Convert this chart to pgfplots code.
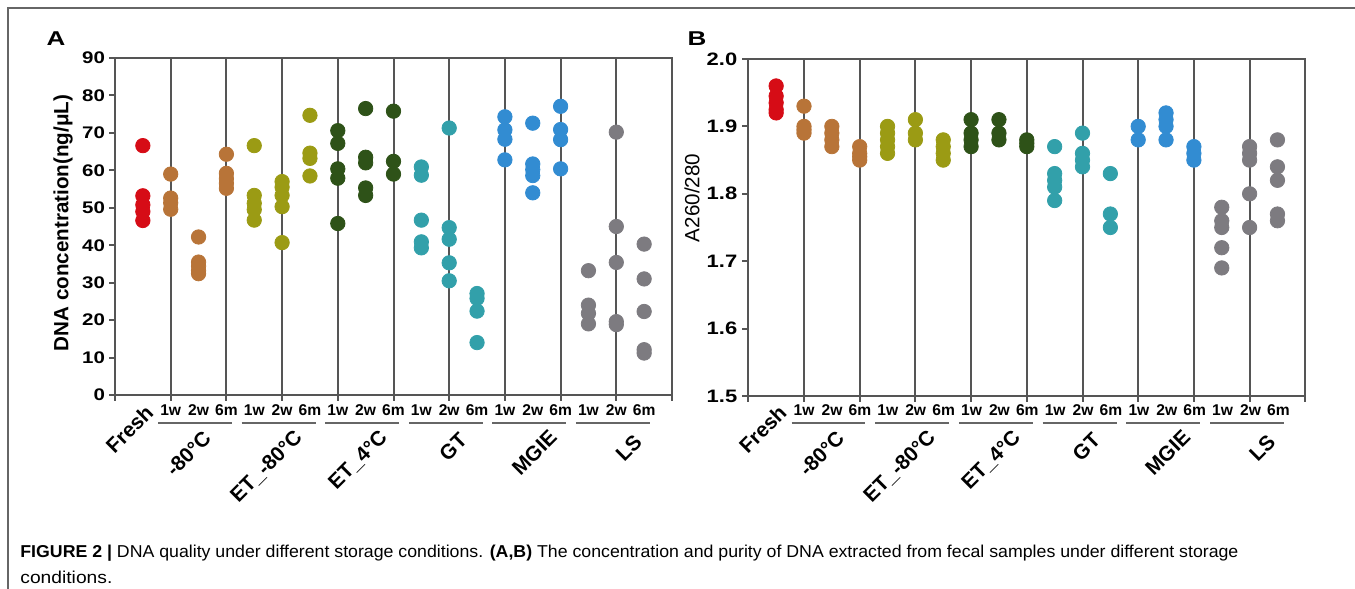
\documentclass[border=0pt]{standalone}
\usepackage{pgfplots}
\pgfplotsset{compat=1.18}
\usepackage{fontspec}
\usepackage{graphicx}
\setmainfont{Liberation Sans}
\newfontfamily\widefont[FakeStretch=1.22]{Liberation Sans}
\newfontfamily\widerfont[FakeStretch=1.3]{Liberation Sans}

\definecolor{cfresh}{RGB}{214,12,22}
\definecolor{cbrown}{RGB}{184,116,56}
\definecolor{colive}{RGB}{155,155,20}
\definecolor{cgreen}{RGB}{46,82,24}
\definecolor{cteal}{RGB}{50,160,170}
\definecolor{cblue}{RGB}{50,140,210}
\definecolor{cgrey}{RGB}{125,123,128}
\definecolor{lines}{RGB}{85,85,85}

\pgfplotsset{
  dotplot/.style={
    scale only axis, anchor=south west,
    width=278.5pt, height=168.5pt,
    xmin=0, xmax=20,
    xtick={0,2,...,20}, xticklabels={},
    xmajorgrids, grid style={line width=1pt, color=lines},
    axis line style={line width=1pt, color=lines},
    tick style={line width=1pt, color=lines},
    tick align=outside, major tick length=3pt,
    xtick pos=bottom, ytick pos=left,
    /pgf/number format/assume math mode=true,
    clip=false,
  },
  dots/.style={only marks, mark=*, mark size=3.6pt, color=#1, mark options={draw=#1, fill=#1}},
}

\begin{document}
\begin{tikzpicture}
\useasboundingbox (0,0) rectangle (677.5pt,294.5pt);

% panel A
\begin{axis}[dotplot, at={(57.5pt,97pt)},
  ymin=0, ymax=90, ytick={0,10,...,90},
  yticklabel style={font=\widefont\bfseries\fontsize{8.4}{9}\selectfont, xshift=1.5pt},
]
\addplot[dots=cfresh] coordinates {(1,66.6)(1,53.2)(1,50.8)(1,49.0)(1,46.6)};
\addplot[dots=cbrown] coordinates {(2,59.0)(2,52.6)(2,51.3)(2,49.6)(3,42.2)(3,35.5)(3,34.4)(3,33.2)(3,32.4)(4,64.3)(4,59.2)(4,57.8)(4,56.5)(4,55.2)};
\addplot[dots=colive] coordinates {(5,66.6)(5,53.3)(5,51.2)(5,49.5)(5,46.7)(6,57.0)(6,55.5)(6,53.3)(6,50.3)(6,40.7)(7,74.7)(7,64.6)(7,63.2)(7,58.5)};
\addplot[dots=cgreen] coordinates {(8,70.6)(8,67.2)(8,60.4)(8,57.9)(8,45.8)(9,76.5)(9,63.5)(9,62.0)(9,55.3)(9,53.3)(10,75.8)(10,62.4)(10,59.0)};
\addplot[dots=cteal] coordinates {(11,60.9)(11,58.7)(11,46.7)(11,40.9)(11,39.3)(12,71.3)(12,44.7)(12,41.6)(12,35.3)(12,30.5)(13,27.1)(13,25.8)(13,22.4)(13,14.0)};
\addplot[dots=cblue] coordinates {(14,74.3)(14,70.8)(14,68.3)(14,62.8)(15,72.6)(15,61.7)(15,60.2)(15,58.6)(15,54.0)(16,77.1)(16,70.9)(16,68.2)(16,60.4)};
\addplot[dots=cgrey] coordinates {(17,33.2)(17,24.0)(17,21.8)(17,19.0)(18,70.2)(18,45.0)(18,35.4)(18,19.6)(18,18.8)(19,40.3)(19,31.0)(19,22.3)(19,12.1)(19,11.2)};
\end{axis}

% panel B
\begin{axis}[dotplot, at={(374.15pt,96.5pt)},
  ymin=1.5, ymax=2.0, ytick={1.5,1.6,...,2.0},
  yticklabel style={font=\widefont\bfseries\fontsize{9}{10}\selectfont, xshift=1pt,
    /pgf/number format/fixed, /pgf/number format/fixed zerofill, /pgf/number format/precision=1},
]
\addplot[dots=cfresh] coordinates {(1,1.96)(1,1.945)(1,1.935)(1,1.925)(1,1.92)};
\addplot[dots=cbrown] coordinates {(2,1.93)(2,1.90)(2,1.895)(2,1.89)(3,1.90)(3,1.89)(3,1.88)(3,1.87)(4,1.87)(4,1.86)(4,1.855)(4,1.85)};
\addplot[dots=colive] coordinates {(5,1.90)(5,1.89)(5,1.88)(5,1.87)(5,1.86)(6,1.91)(6,1.89)(6,1.88)(7,1.88)(7,1.87)(7,1.86)(7,1.85)};
\addplot[dots=cgreen] coordinates {(8,1.91)(8,1.89)(8,1.88)(8,1.87)(9,1.91)(9,1.89)(9,1.88)(10,1.88)(10,1.875)(10,1.87)};
\addplot[dots=cteal] coordinates {(11,1.87)(11,1.83)(11,1.82)(11,1.81)(11,1.79)(12,1.89)(12,1.86)(12,1.85)(12,1.84)(13,1.83)(13,1.77)(13,1.75)};
\addplot[dots=cblue] coordinates {(14,1.90)(14,1.88)(15,1.92)(15,1.91)(15,1.90)(15,1.88)(16,1.87)(16,1.86)(16,1.85)};
\addplot[dots=cgrey] coordinates {(17,1.78)(17,1.76)(17,1.75)(17,1.72)(17,1.69)(18,1.87)(18,1.86)(18,1.85)(18,1.80)(18,1.75)(19,1.88)(19,1.84)(19,1.82)(19,1.77)(19,1.76)};
\end{axis}

% texts and rules, in pixel units of the reference
\begin{scope}[x=0.5pt, y=-0.5pt, yshift=294.5pt]
  \draw[line width=1pt, color=lines!90] (8,589) -- (8,8) -- (1355,8);
  \node[font=\widerfont\bfseries\fontsize{10}{11}\selectfont] at (56,39) {A};
  \node[font=\widerfont\bfseries\fontsize{10}{11}\selectfont] at (697,39) {B};
  \node[rotate=90, font=\bfseries\fontsize{10.3}{12}\selectfont] at (63,223) {DNA concentration(ng/μL)};
  \node[rotate=90, font=\fontsize{10.3}{12}\selectfont] at (692,198) {A260/280};
  \foreach \xo/\sp in {115/27.85, 748.3/27.9} {
    \foreach \k/\lab in {2/1w,3/2w,4/6m,5/1w,6/2w,7/6m,8/1w,9/2w,10/6m,11/1w,12/2w,13/6m,14/1w,15/2w,16/6m,17/1w,18/2w,19/6m}
      \node[anchor=base, inner sep=0pt, font=\bfseries\fontsize{7.8}{9}\selectfont] at ({\xo+\k*\sp},416) {\lab};
    \foreach \k in {2,5,8,11,14,17}
      \draw[line width=1pt, color=lines!90] ({\xo+(\k-0.45)*\sp},423) -- ({\xo+(\k+2.2)*\sp},423);
  }
  \foreach \dx in {0,633.3} {
    \begin{scope}[xshift=\dx*0.5pt]
    \tikzset{grp/.style={anchor=north east, inner sep=0pt, rotate=45, font=\bfseries\fontsize{10.4}{12}\selectfont}}
    \node[grp] at (144,403) {Fresh};
    \node[grp] at (202,429) {-80°C};
    \node[grp] at (293,428) {ET\_-80°C};
    \node[grp] at (378,428) {ET\_4°C};
    \node[grp] at (458,431) {GT};
    \node[grp] at (548,428) {MGIE};
    \node[grp] at (633,433) {LS};
    \end{scope}
  }
  \node[anchor=base west, inner sep=0pt] at (20,558) {\resizebox{609pt}{\height}{\fontsize{8.6}{10}\selectfont\textbf{FIGURE 2 |} DNA quality under different storage conditions. \textbf{(A,B)} The concentration and purity of DNA extracted from fecal samples under different storage}};
  \node[anchor=base west, inner sep=0pt] at (20,584) {\resizebox{46pt}{\height}{\fontsize{8.6}{10}\selectfont conditions.}};
\end{scope}
\end{tikzpicture}
\end{document}
